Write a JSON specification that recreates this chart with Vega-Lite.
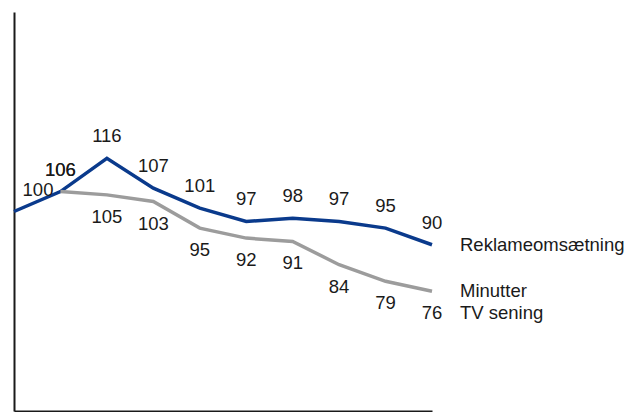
{
  "$schema": "https://vega.github.io/schema/vega-lite/v6.json",
  "autosize": {"type": "none"},
  "width": 418,
  "height": 399,
  "padding": {"left": 14, "top": 12, "right": 195, "bottom": 1},
  "background": "white",
  "config": {
    "view": {"stroke": null},
    "text": {"font": "Liberation Sans", "fontSize": 18.5, "color": "#1a1a1a"}
  },
  "data": {
    "values": [
      {"series": "Reklameomsætning", "i": 0, "value": 100},
      {"series": "Reklameomsætning", "i": 1, "value": 106},
      {"series": "Reklameomsætning", "i": 2, "value": 116},
      {"series": "Reklameomsætning", "i": 3, "value": 107},
      {"series": "Reklameomsætning", "i": 4, "value": 101},
      {"series": "Reklameomsætning", "i": 5, "value": 97},
      {"series": "Reklameomsætning", "i": 6, "value": 98},
      {"series": "Reklameomsætning", "i": 7, "value": 97},
      {"series": "Reklameomsætning", "i": 8, "value": 95},
      {"series": "Reklameomsætning", "i": 9, "value": 90},
      {"series": "Minutter\nTV sening", "i": 1, "value": 106},
      {"series": "Minutter\nTV sening", "i": 2, "value": 105},
      {"series": "Minutter\nTV sening", "i": 3, "value": 103},
      {"series": "Minutter\nTV sening", "i": 4, "value": 95},
      {"series": "Minutter\nTV sening", "i": 5, "value": 92},
      {"series": "Minutter\nTV sening", "i": 6, "value": 91},
      {"series": "Minutter\nTV sening", "i": 7, "value": 84},
      {"series": "Minutter\nTV sening", "i": 8, "value": 79},
      {"series": "Minutter\nTV sening", "i": 9, "value": 76}
    ]
  },
  "encoding": {
    "x": {
      "field": "i", "type": "quantitative",
      "scale": {"domain": [0, 9], "nice": false, "zero": false},
      "axis": {"title": null, "labels": false, "ticks": false, "grid": false, "domainColor": "#1a1a1a", "domainWidth": 2}
    },
    "y": {
      "field": "value", "type": "quantitative",
      "scale": {"domain": [40, 160], "nice": false, "zero": false},
      "axis": {"title": null, "labels": false, "ticks": false, "grid": false, "domainColor": "#1a1a1a", "domainWidth": 2}
    }
  },
  "layer": [
    {
      "mark": {"type": "line", "strokeWidth": 3.5, "strokeJoin": "miter", "clip": false},
      "encoding": {
        "color": {
          "field": "series", "type": "nominal",
          "scale": {"domain": ["Minutter\nTV sening", "Reklameomsætning"], "range": ["#9c9c9c", "#0a3a8c"]},
          "legend": null
        },
        "order": {"field": "i"}
      }
    },
    {
      "transform": [{"filter": "datum.series == 'Reklameomsætning' && datum.i >= 1"}],
      "mark": {"type": "text", "dy": -22, "baseline": "middle"},
      "encoding": {"text": {"field": "value", "type": "quantitative"}}
    },
    {
      "transform": [{"filter": "datum.series == 'Reklameomsætning' && datum.i == 0"}],
      "mark": {"type": "text", "dx": 24, "dy": -22, "baseline": "middle"},
      "encoding": {"text": {"field": "value", "type": "quantitative"}}
    },
    {
      "transform": [{"filter": "datum.series != 'Reklameomsætning' && datum.i == 1"}],
      "mark": {"type": "text", "dy": -22, "baseline": "middle"},
      "encoding": {"text": {"field": "value", "type": "quantitative"}}
    },
    {
      "transform": [{"filter": "datum.series != 'Reklameomsætning' && datum.i >= 2"}],
      "mark": {"type": "text", "dy": 22, "baseline": "middle"},
      "encoding": {"text": {"field": "value", "type": "quantitative"}}
    },
    {
      "transform": [{"filter": "datum.i == 9"}],
      "mark": {"type": "text", "align": "left", "baseline": "middle", "dx": 28, "lineBreak": "\n", "lineHeight": 22},
      "encoding": {"text": {"field": "series", "type": "nominal"}}
    }
  ]
}
